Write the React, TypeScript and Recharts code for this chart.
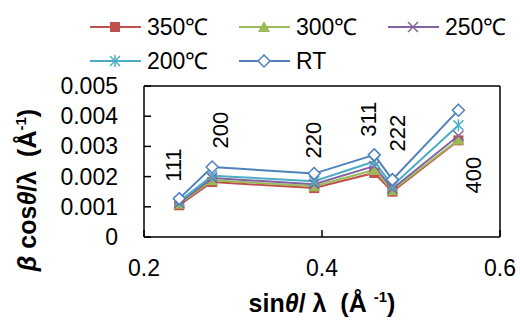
import React from "react";
import {
  LineChart,
  Line,
  XAxis,
  YAxis,
  Legend,
  ReferenceLine,
  ReferenceDot,
} from "recharts";

// sinθ/λ positions of the reflections
const peakX = [0.2396, 0.2766, 0.3912, 0.4587, 0.4791, 0.5533];
const hkl = ["111", "200", "220", "311", "222", "400"];

// β cosθ/λ per annealing temperature
const s350 = [0.00105, 0.00182, 0.00162, 0.00212, 0.0015, 0.0032];
const s300 = [0.0011, 0.00188, 0.00168, 0.00222, 0.00155, 0.00322];
const s250 = [0.00113, 0.00195, 0.00175, 0.00235, 0.0016, 0.00335];
const s200 = [0.00118, 0.00203, 0.00185, 0.0025, 0.0017, 0.0037];
const sRT = [0.00127, 0.00232, 0.0021, 0.00272, 0.0019, 0.0042];

// where the hkl labels sit (data units)
const labelX = [0.2326, 0.2854, 0.39, 0.4517, 0.4843, 0.5697];
const labelY = [0.00238, 0.00354, 0.00321, 0.0039, 0.00344, 0.00205];

const xTicks = [0.2, 0.4, 0.6];
const yTicks = [0, 0.001, 0.002, 0.003, 0.004, 0.005];

const series = [
  { key: "s350", name: "350℃", color: "#C0504D", marker: "square", values: s350 },
  { key: "s300", name: "300℃", color: "#9BBB59", marker: "triangle", values: s300 },
  { key: "s250", name: "250℃", color: "#8064A2", marker: "cross", values: s250 },
  { key: "s200", name: "200℃", color: "#4BACC6", marker: "star", values: s200 },
  { key: "sRT", name: "RT", color: "#4F81BD", marker: "diamond", values: sRT },
];

const data = peakX.map((x, i) => {
  const row: Record<string, number> = { x };
  series.forEach((s) => {
    row[s.key] = s.values[i];
  });
  return row;
});

const FONT = "'Liberation Sans', Arial, sans-serif";
const NB = "\u00a0";

const Marker = ({ type, color, cx, cy }: any) => {
  if (cx == null || cy == null) return null;
  const r = 5;
  switch (type) {
    case "square":
      return <rect x={cx - r} y={cy - r} width={r * 2} height={r * 2} fill={color} />;
    case "triangle":
      return (
        <polygon
          points={`${cx},${cy - r - 1} ${cx + r + 1},${cy + r} ${cx - r - 1},${cy + r}`}
          fill={color}
        />
      );
    case "cross":
      return (
        <g stroke={color} strokeWidth={1.5}>
          <line x1={cx - r} y1={cy - r} x2={cx + r} y2={cy + r} />
          <line x1={cx - r} y1={cy + r} x2={cx + r} y2={cy - r} />
        </g>
      );
    case "star":
      return (
        <g stroke={color} strokeWidth={1.5}>
          <line x1={cx - r} y1={cy - r} x2={cx + r} y2={cy + r} />
          <line x1={cx - r} y1={cy + r} x2={cx + r} y2={cy - r} />
          <line x1={cx} y1={cy - r - 1} x2={cx} y2={cy + r + 1} />
        </g>
      );
    default:
      return (
        <polygon
          points={`${cx},${cy - r - 1} ${cx + r + 1},${cy} ${cx},${cy + r + 1} ${cx - r - 1},${cy}`}
          fill="#fff"
          stroke={color}
          strokeWidth={1.5}
        />
      );
  }
};

const YTick = ({ x, y, payload }: any) => (
  <g>
    <line x1={x + 26} y1={y} x2={x + 33} y2={y} stroke="#000" strokeWidth={1.5} />
    <text x={x} y={y} dy={8} textAnchor="end" fontSize={23} fontFamily={FONT} fill="#000">
      {payload.value === 0 ? "0" : payload.value.toFixed(3)}
    </text>
  </g>
);

const XTick = ({ x, y, payload }: any) => (
  <g>
    <line x1={x} y1={y - 22} x2={x} y2={y - 29} stroke="#000" strokeWidth={1.5} />
    <text x={x} y={y} dy={17} textAnchor="middle" fontSize={23} fontFamily={FONT} fill="#000">
      {payload.value.toFixed(1)}
    </text>
  </g>
);

const HklLabel = ({ cx, cy, text }: any) => (
  <text
    x={cx}
    y={cy}
    transform={`rotate(-90 ${cx} ${cy})`}
    textAnchor="middle"
    dy={8}
    fontSize={22}
    fontFamily={FONT}
    fill="#000"
  >
    {text}
  </text>
);

const LegendContent = () => {
  const cols = [90, 239, 388];
  return (
    <svg width={520} height={80} style={{ position: "absolute", left: 0, top: 0 }}>
      {series.map((s, i) => {
        const x = cols[i % 3];
        const y = i < 3 ? 27 : 61;
        return (
          <g key={s.key}>
            <line x1={x} y1={y} x2={x + 51} y2={y} stroke={s.color} strokeWidth={2} />
            <Marker type={s.marker} color={s.color} cx={x + 25} cy={y} />
            <text x={x + 57} y={y} dy={8} fontSize={23} fontFamily={FONT} fill="#000">
              {s.name}
            </text>
          </g>
        );
      })}
    </svg>
  );
};

export default function App() {
  return (
    <div style={{ position: "absolute", left: 0, top: 0, width: 520, height: 320, background: "#fff" }}>
      <LineChart
        width={520}
        height={320}
        data={data}
        margin={{ top: 86, right: 20, bottom: 0, left: 64 }}
      >
        <XAxis
          dataKey="x"
          type="number"
          domain={[0.2, 0.6]}
          ticks={xTicks}
          height={83}
          tickLine={false}
          tickSize={0}
          tickMargin={22}
          axisLine={{ stroke: "#000", strokeWidth: 1.5 }}
          tick={<XTick />}
        />
        <YAxis
          type="number"
          domain={[0, 0.005]}
          ticks={yTicks}
          width={80}
          tickLine={false}
          tickSize={0}
          tickMargin={26}
          axisLine={{ stroke: "#000", strokeWidth: 1.5 }}
          tick={<YTick />}
        />
        <ReferenceLine y={0.005} stroke="#000" strokeWidth={1.5} />
        <ReferenceLine x={0.6} stroke="#000" strokeWidth={1.5} />
        <Legend content={<LegendContent />} wrapperStyle={{ position: "absolute", left: 0, top: 0 }} />
        {hkl.map((t, i) => (
          <ReferenceDot
            key={t}
            x={labelX[i]}
            y={labelY[i]}
            r={0}
            shape={(p: any) => <HklLabel cx={p.cx} cy={p.cy} text={t} />}
          />
        ))}
        {series.map((s) => (
          <Line
            key={s.key}
            dataKey={s.key}
            name={s.name}
            stroke={s.color}
            strokeWidth={2}
            dot={(p: any) => <Marker key={`${s.key}-${p.index}`} type={s.marker} color={s.color} cx={p.cx} cy={p.cy} />}
            activeDot={false}
            isAnimationActive={false}
          />
        ))}
        <text
          x={27}
          y={190}
          transform="rotate(-90 27 190)"
          textAnchor="middle"
          dy={9}
          fontSize={25}
          fontWeight="bold"
          fontFamily={FONT}
          fill="#000"
        >
          <tspan fontStyle="italic">β</tspan>
          <tspan>{" cos"}</tspan>
          <tspan fontStyle="italic">θ</tspan>
          <tspan>{`/λ${NB}${NB}(Å`}</tspan>
          <tspan fontSize={15} dy={-10}>-1</tspan>
          <tspan dy={10}>)</tspan>
        </text>
        <text
          x={322}
          y={303}
          textAnchor="middle"
          dy={9}
          fontSize={25}
          fontWeight="bold"
          fontFamily={FONT}
          fill="#000"
        >
          <tspan>sin</tspan>
          <tspan fontStyle="italic">θ</tspan>
          <tspan>{`/${NB}λ${NB}${NB}(Å${NB}`}</tspan>
          <tspan fontSize={15} dy={-10}>-1</tspan>
          <tspan dy={10}>)</tspan>
        </text>
      </LineChart>
    </div>
  );
}
